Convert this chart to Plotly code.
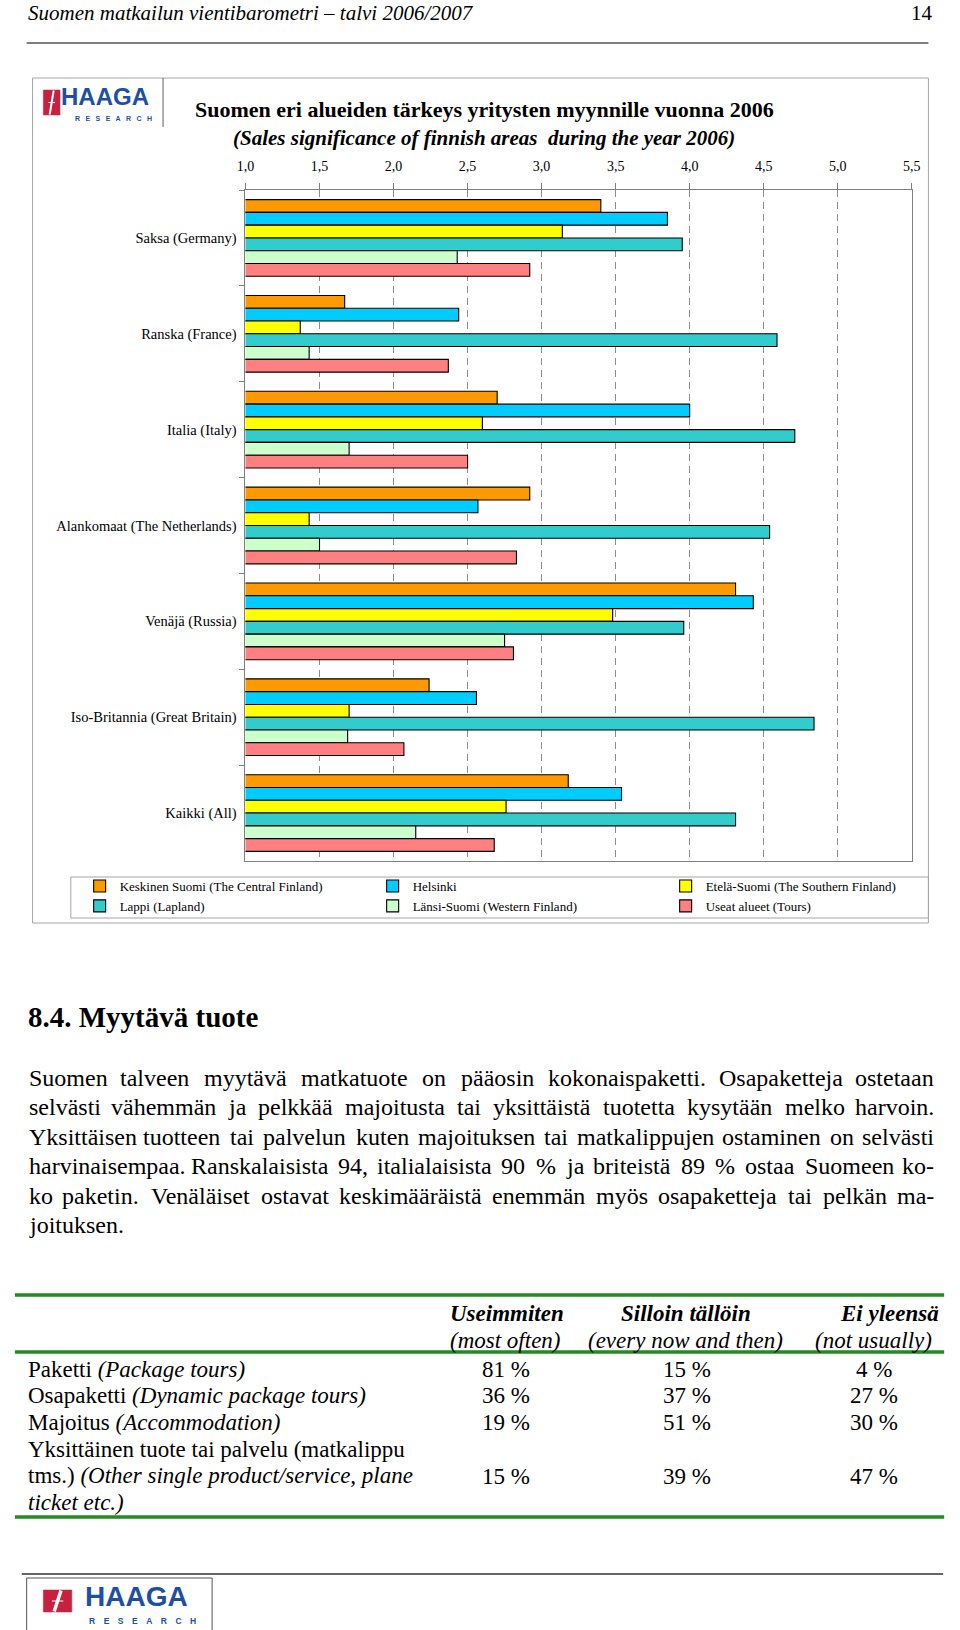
import plotly.graph_objects as go

W, H = 960, 1630
SERIF = "Liberation Serif, Times New Roman, serif"
SANS = "Liberation Sans, Arial, sans-serif"

# ---------------- chart data ----------------
categories = [
    "Saksa (Germany)",
    "Ranska (France)",
    "Italia (Italy)",
    "Alankomaat (The Netherlands)",
    "Venäjä (Russia)",
    "Iso-Britannia (Great Britain)",
    "Kaikki (All)",
]
keskinen_suomi = [3.40, 1.67, 2.70, 2.92, 4.31, 2.24, 3.18]
helsinki = [3.85, 2.44, 4.00, 2.57, 4.43, 2.56, 3.54]
etela_suomi = [3.14, 1.37, 2.60, 1.43, 3.48, 1.70, 2.76]
lappi = [3.95, 4.59, 4.71, 4.54, 3.96, 4.84, 4.31]
lansi_suomi = [2.43, 1.43, 1.70, 1.50, 2.75, 1.69, 2.15]
useat_alueet = [2.92, 2.37, 2.50, 2.83, 2.81, 2.07, 2.68]

series_names = [
    "Keskinen Suomi (The Central Finland)",
    "Helsinki",
    "Etelä-Suomi (The Southern Finland)",
    "Lappi (Lapland)",
    "Länsi-Suomi (Western Finland)",
    "Useat alueet (Tours)",
]
series_values = [keskinen_suomi, helsinki, etela_suomi, lappi, lansi_suomi, useat_alueet]
series_colors = ["#FF9900", "#00CCFF", "#FFFF00", "#33CCCC", "#CCFFCC", "#FF8080"]

x_tick_values = [1.0, 1.5, 2.0, 2.5, 3.0, 3.5, 4.0, 4.5, 5.0, 5.5]
x_tick_labels = ["1,0", "1,5", "2,0", "2,5", "3,0", "3,5", "4,0", "4,5", "5,0", "5,5"]

# ---------------- table data ----------------
table_header_main = ["Useimmiten", "Silloin tällöin", "Ei yleensä"]
table_header_sub = ["(most often)", "(every now and then)", "(not usually)"]
table_row_labels = [
    ["Paketti <i>(Package tours)</i>"],
    ["Osapaketti <i>(Dynamic package tours)</i>"],
    ["Majoitus <i>(Accommodation)</i>"],
    ["Yksittäinen tuote tai palvelu (matkalippu",
     "tms.) <i>(Other single product/service, plane</i>",
     "<i>ticket etc.)</i>"],
]
useimmiten = [81, 36, 19, 15]
silloin_tallloin = [15, 37, 51, 39]
ei_yleensa = [4, 27, 30, 47]

# ---------------- page text ----------------
page_header = "Suomen matkailun vientibarometri – talvi 2006/2007"
page_number = "14"
chart_title = "Suomen eri alueiden tärkeys yritysten myynnille vuonna 2006"
chart_subtitle = "(Sales significance of finnish areas  during the year 2006)"
section_heading = "8.4. Myytävä tuote"
paragraph_lines = [
    "Suomen talveen myytävä matkatuote on pääosin kokonaispaketti. Osapaketteja ostetaan",
    "selvästi vähemmän ja pelkkää majoitusta tai yksittäistä tuotetta kysytään melko harvoin.",
    "Yksittäisen tuotteen tai palvelun kuten majoituksen tai matkalippujen ostaminen on selvästi",
    "harvinaisempaa. Ranskalaisista 94, italialaisista 90 % ja briteistä 89 % ostaa Suomeen ko-",
    "ko paketin. Venäläiset ostavat keskimääräistä enemmän myös osapaketteja tai pelkän ma-",
    "joituksen.",
]
logo_word = "HAAGA"
logo_subword = "RESEARCH"

# ---------------- helpers ----------------
def px(x):
    return x / W


def py(y):
    return 1 - y / H


annotations = []
shapes = []


def text(x, y, s, size, anchor="left", family=SERIF, color="black"):
    annotations.append(dict(
        x=px(x), y=py(y), xref="paper", yref="paper", text=s, showarrow=False,
        xanchor=anchor, yanchor="middle", borderpad=0,
        font=dict(family=family, size=size, color=color)))


def line(x0, y0, x1, y1, color="black", width=1):
    shapes.append(dict(type="line", xref="paper", yref="paper",
                       x0=px(x0), y0=py(y0), x1=px(x1), y1=py(y1),
                       line=dict(color=color, width=width)))


def rect(x0, y0, x1, y1, color="#A0A0A0", width=1, fill="rgba(0,0,0,0)"):
    shapes.append(dict(type="rect", xref="paper", yref="paper",
                       x0=px(x0), y0=py(y0), x1=px(x1), y1=py(y1),
                       line=dict(color=color, width=width), fillcolor=fill))


# Times New Roman / Liberation Serif advance widths (per 1000 em)
CW = {' ': 250, '.': 250, ',': 250, '%': 833, '-': 333, '(': 333, ')': 333, '/': 278}
CW.update({c: 500 for c in "0123456789"})
CW.update(dict(zip("abcdefghijklmnopqrstuvwxyz",
                   [444, 500, 444, 500, 444, 333, 500, 500, 278, 278, 500, 278, 778,
                    500, 500, 500, 500, 333, 389, 278, 500, 500, 722, 500, 500, 444])))
CW.update(dict(zip("ABCDEFGHIJKLMNOPQRSTUVWXYZ",
                   [722, 667, 667, 722, 611, 556, 722, 722, 333, 389, 722, 611, 889,
                    722, 722, 556, 722, 667, 556, 611, 722, 722, 944, 722, 722, 611])))
CW.update({'ä': 444, 'ö': 500, 'å': 444, 'Ä': 722, 'Ö': 722})


def text_w(s, size):
    return sum(CW.get(c, 500) for c in s) / 1000.0 * size


def justified(line_text, y, x0, x1, size, justify=True):
    words = line_text.split(" ")
    if not justify or len(words) < 2:
        text(x0, y, line_text, size)
        return
    widths = [text_w(w, size) for w in words]
    gap = (x1 - x0 - sum(widths)) / (len(words) - 1)
    x = x0
    for i, (w, wd) in enumerate(zip(words, widths)):
        if i == 0:
            text(x, y, w, size, "left")
        elif i == len(words) - 1:
            text(x1, y, w, size, "right")
        else:
            text(x + wd / 2, y, w, size, "center")
        x += wd + gap


def logo(x_icon, y_icon, icon_w, icon_h, word_x, word_y, word_size,
         sub_x, sub_y, sub_size, sub_sep):
    red = "#C8213F"
    blue = "#1E4FA3"
    rect(x_icon, y_icon, x_icon + icon_w, y_icon + icon_h, color=red, width=0.5, fill=red)
    line(x_icon + icon_w * 0.38, y_icon + icon_h * 0.98, x_icon + icon_w * 0.62,
         y_icon + icon_h * 0.02, color="white", width=max(2, icon_w * 0.12))
    line(x_icon + icon_w * 0.3, y_icon + icon_h * 0.5, x_icon + icon_w * 0.7,
         y_icon + icon_h * 0.5, color="white", width=1)
    text(word_x, word_y, "<b>" + logo_word + "</b>", word_size, "left", SANS, blue)
    text(sub_x, sub_y, "<b>" + sub_sep.join(logo_subword) + "</b>", sub_size,
         "left", SANS, blue)


# ---------------- figure ----------------
fig = go.Figure()
for name, vals, color in zip(series_names, series_values, series_colors):
    fig.add_trace(go.Bar(
        y=categories, x=vals, name=name, orientation="h",
        marker=dict(color=color, line=dict(color="black", width=1.1)),
    ))

plot_left, plot_right, plot_top, plot_bottom = 241, 920, 190, 861

# page header
text(18, 13, "<i>" + page_header + "</i>", 21)
text(943, 13, page_number, 21, "right")
line(18, 43, 937, 43, "black", 1.2)

# chart frame, logo box, legend box
rect(24, 78, 937, 923, color="#A6A6A6", width=1)
line(157, 78, 157, 127, "#606060", 1)
rect(63, 877, 937, 918, color="#A6A6A6", width=1)
logo(35, 90, 17, 25, 52, 97, 24, 66, 118, 7, "\u2002 ")

# chart titles
text(485, 109, "<b>" + chart_title + "</b>", 22, "center")
text(484, 138, "<b><i>" + chart_subtitle + "</i></b>", 21, "center")

# section heading and paragraph
text(18, 1017, "<b>" + section_heading + "</b>", 29)
para_y0, para_dy = 1078, 29.4
for i, ln in enumerate(paragraph_lines):
    justified(ln, para_y0 + i * para_dy, 19, 944, 24, justify=(i < len(paragraph_lines) - 1))

# table
green = "#228B22"
line(6, 1295, 953, 1295, green, 3.5)
line(6, 1352, 953, 1352, green, 3.5)
line(6, 1517, 953, 1517, green, 3.5)
col_main_x = [508, 690, 897]
col_sub_x = [506, 689, 881]
col_val_x = [506, 691, 882]
for cx, s in zip(col_main_x, table_header_main):
    text(cx, 1313, "<b><i>" + s + "</i></b>", 23, "center")
for cx, s in zip(col_sub_x, table_header_sub):
    text(cx, 1340, "<i>" + s + "</i>", 23, "center")
row_first_y = [1369, 1395, 1422, 1449]
row_value_y = [1369, 1395, 1422, 1476]
for r, labels in enumerate(table_row_labels):
    for k, lab in enumerate(labels):
        text(18, row_first_y[r] + k * 26.5, lab, 23)
    for cx, vals in zip(col_val_x, [useimmiten, silloin_tallloin, ei_yleensa]):
        text(cx, row_value_y[r], f"{vals[r]} %", 23, "center")

# footer
line(13, 1574, 952, 1574, "#333333", 1.6)
line(18, 1578, 207, 1578, "#555555", 1)
line(18, 1578, 18, 1630, "#555555", 1)
line(207, 1578, 207, 1630, "#555555", 1)
logo(35, 1590, 29, 22, 76, 1596, 28, 80, 1621, 8.5, "\u2003")

fig.update_layout(
    width=W, height=H,
    margin=dict(l=0, r=0, t=0, b=0),
    paper_bgcolor="white", plot_bgcolor="white",
    barmode="group", bargap=0.2, bargroupgap=0,
    showlegend=True,
    legend=dict(
        orientation="h", x=px(72), xanchor="left", y=py(871), yanchor="top",
        entrywidth=248, entrywidthmode="pixels", traceorder="normal",
        font=dict(family=SERIF, size=13, color="black"),
        bgcolor="rgba(0,0,0,0)", borderwidth=0, tracegroupgap=0,
    ),
    xaxis=dict(
        domain=[px(plot_left), px(plot_right)], range=[1, 5.5], side="top",
        tickvals=x_tick_values, ticktext=x_tick_labels,
        ticks="outside", ticklen=6, tickcolor="#808080",
        showline=True, linecolor="#808080", linewidth=1, mirror=True,
        showgrid=True, gridcolor="#8C8C8C", gridwidth=1, griddash="7px,5px",
        zeroline=False, ticklabelstandoff=6,
        tickfont=dict(family=SERIF, size=14, color="black"),
        fixedrange=True,
    ),
    yaxis=dict(
        domain=[py(plot_bottom), py(plot_top)], autorange="reversed",
        type="category", tickson="boundaries",
        ticks="outside", ticklen=5, tickcolor="#808080",
        showline=True, linecolor="#808080", linewidth=1, mirror=True,
        showgrid=False, zeroline=False, ticklabelstandoff=5,
        tickfont=dict(family=SERIF, size=14.5, color="black"),
        fixedrange=True,
    ),
    annotations=annotations,
    shapes=shapes,
)

fig.write_html("out.html", config={"displayModeBar": False},
               post_script="document.body.style.margin='0';")
